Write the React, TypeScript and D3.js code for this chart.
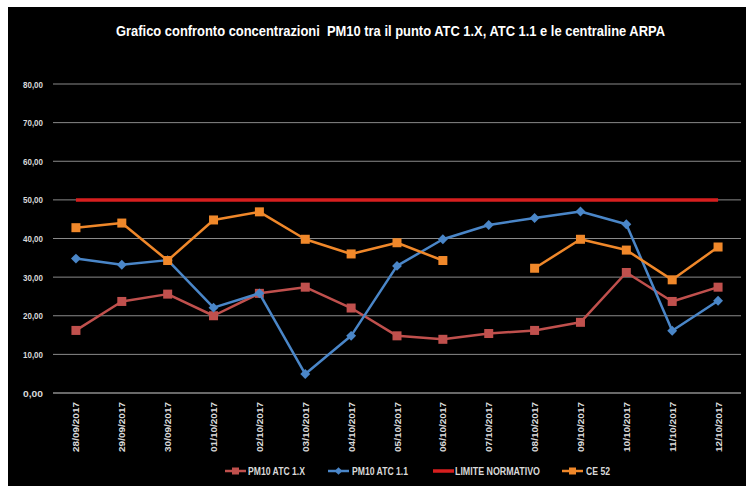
import React from "react";
import * as d3 from "d3";

const categories = ["28/09/2017","29/09/2017","30/09/2017","01/10/2017","02/10/2017","03/10/2017","04/10/2017","05/10/2017","06/10/2017","07/10/2017","08/10/2017","09/10/2017","10/10/2017","11/10/2017","12/10/2017"];
const atc1x = [16.2, 23.7, 25.6, 20.0, 25.8, 27.4, 22.0, 14.8, 13.9, 15.4, 16.2, 18.3, 31.2, 23.7, 27.4];
const atc11 = [34.8, 33.2, 34.4, 22.1, 25.8, 4.9, 14.8, 32.9, 39.8, 43.5, 45.3, 47.0, 43.7, 16.1, 23.9];
const limite = [50, 50, 50, 50, 50, 50, 50, 50, 50, 50, 50, 50, 50, 50, 50];
const ce52: (number | null)[] = [42.8, 44.0, 34.3, 44.8, 46.9, 39.8, 36.0, 38.9, 34.3, null, 32.3, 39.8, 37.0, 29.3, 37.8];
const yTicks = [0, 10, 20, 30, 40, 50, 60, 70, 80];
const title = "Grafico confronto concentrazioni  PM10 tra il punto ATC 1.X, ATC 1.1 e le centraline ARPA";

const FONT = "'Liberation Sans Narrow', 'Arial Narrow', 'Liberation Sans', Arial, sans-serif";

export default function App() {
  const W = 746, H = 486;
  const x = d3.scaleBand<string>().domain(categories).range([53, 741]).paddingInner(0).paddingOuter(0);
  const cx = (c: string) => (x(c) as number) + x.bandwidth() / 2;
  const y = d3.scaleLinear().domain([0, 80]).range([393, 84]);
  const fmt = (v: number) => v.toFixed(2).replace(".", ",");

  const line = d3.line<number | null>()
    .defined((d) => d !== null)
    .x((_, i) => cx(categories[i]))
    .y((d) => y(d as number));

  const series = [
    { name: "PM10 ATC 1.X", data: atc1x as (number | null)[], color: "#c0504d", marker: "square", lw: 2.5 },
    { name: "PM10 ATC 1.1", data: atc11 as (number | null)[], color: "#4a86c8", marker: "diamond", lw: 2.5 },
    { name: "LIMITE NORMATIVO", data: limite as (number | null)[], color: "#d71f1f", marker: "none", lw: 3.5 },
    { name: "CE 52", data: ce52, color: "#f0882a", marker: "square", lw: 2.5 },
  ];

  const marker = (m: string, px: number, py: number, color: string, key: string, s = 9) => {
    if (m === "square") return <rect key={key} x={px - s / 2} y={py - s / 2} width={s} height={s} fill={color} />;
    if (m === "diamond") {
      const r = s * 0.55;
      return <path key={key} d={`M${px},${py - r}L${px + r},${py}L${px},${py + r}L${px - r},${py}Z`} fill={color} />;
    }
    return null;
  };

  const legendPos = [
    { mx: 225, tx: 248, tl: 57 },
    { mx: 328, tx: 352, tl: 56 },
    { mx: 433, tx: 455, tl: 85 },
    { mx: 562, tx: 586, tl: 24 },
  ];

  return (
    <svg width={W} height={H} style={{ position: "absolute", left: 0, top: 0, display: "block" }}>
      <rect x={0} y={0} width={W} height={H} fill="#ffffff" />
      <rect x={8} y={7} width={W - 8} height={H - 7} fill="#000000" />
      <text x={390.5} y={36} textAnchor="middle" fill="#ffffff" fontFamily={FONT} fontWeight="bold" fontSize={14}
        textLength={549} lengthAdjust="spacingAndGlyphs" style={{ whiteSpace: "pre" }}>{title}</text>
      {yTicks.map((t) => (
        <g key={t}>
          <line x1={53} x2={741} y1={y(t)} y2={y(t)} stroke={t === 0 ? "#8c8c8c" : "#8a8a8a"} strokeWidth={t === 0 ? 1.5 : 1} />
          <text x={43} y={y(t) + 3.5} textAnchor="end" fill="#d9d9d9" fontFamily={FONT} fontWeight="bold" fontSize={9.5}
            textLength={20} lengthAdjust="spacingAndGlyphs">{fmt(t)}</text>
        </g>
      ))}
      {categories.map((c) => (
        <text key={c} transform={`translate(${cx(c) + 3.5},402) rotate(-90)`} textAnchor="end" fill="#d9d9d9" fontFamily={FONT} fontWeight="bold" fontSize={9.5}
          textLength={50} lengthAdjust="spacingAndGlyphs">{c}</text>
      ))}
      {series.map((s) => (
        <g key={s.name}>
          <path d={line(s.data) || ""} fill="none" stroke={s.color} strokeWidth={s.lw} strokeLinejoin="round" />
          {s.data.map((v, i) => (v === null ? null : marker(s.marker, cx(categories[i]), y(v), s.color, s.name + i, 9)))}
        </g>
      ))}
      {series.map((s, i) => (
        <g key={"lg" + s.name}>
          <line x1={legendPos[i].mx} x2={legendPos[i].mx + 21} y1={471} y2={471} stroke={s.color} strokeWidth={s.lw} />
          {marker(s.marker, legendPos[i].mx + 10.5, 471, s.color, "lm" + i, 7)}
          <text x={legendPos[i].tx} y={475} fill="#d9d9d9" fontFamily={FONT} fontWeight="bold" fontSize={11}
            textLength={legendPos[i].tl} lengthAdjust="spacingAndGlyphs">{s.name}</text>
        </g>
      ))}
    </svg>
  );
}
